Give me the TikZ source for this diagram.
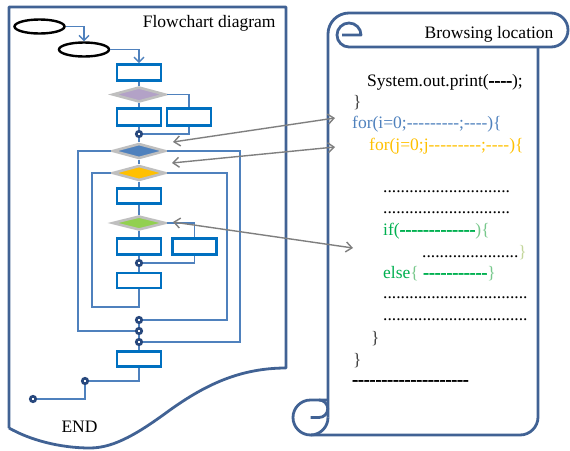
\documentclass[tikz,border=0pt]{standalone}
\usepackage{fontspec}
\setmainfont{Liberation Serif}[Ligatures=TeXOff]
\newfontfamily\dashfont{Liberation Serif}[UprightFont=* Bold,FakeBold=1.5,Ligatures=TeXOff]
\usetikzlibrary{shapes.geometric,arrows.meta}
\definecolor{frame}{RGB}{65,98,148}
\definecolor{flow}{RGB}{79,129,189}
\definecolor{boxblue}{RGB}{0,112,192}
\definecolor{rim}{RGB}{191,191,191}
\definecolor{dotblue}{RGB}{40,72,125}
\definecolor{lilac}{RGB}{179,162,199}
\definecolor{amber}{RGB}{255,192,0}
\definecolor{leaf}{RGB}{146,208,80}
\definecolor{codegreen}{RGB}{0,176,80}
\definecolor{palegreen}{RGB}{120,200,140}
\definecolor{olive}{RGB}{195,214,155}
\definecolor{brace}{RGB}{64,64,64}
\definecolor{pointer}{RGB}{127,127,127}
\newcommand\heavydash[1]{{\dashfont #1}}

\begin{document}
\begin{tikzpicture}[x=1pt,y=-1pt,
  every node/.style={font=\fontsize{17.5}{21}\selectfont},
  procbox/.style={draw=boxblue,line width=2.6pt,fill=white,minimum width=44pt,minimum height=16pt,inner sep=0pt},
  decision/.style={diamond,draw=rim,line width=2.6pt,minimum width=53pt,minimum height=15pt,inner sep=0pt},
  terminal/.style={ellipse,draw=black,line width=2.4pt,minimum width=50pt,minimum height=14pt,inner sep=0pt},
  joint/.style={circle,draw=dotblue,fill=white,line width=2.6pt,minimum size=5.5pt,inner sep=0pt},
  link/.style={draw=flow,line width=1.4pt},
  flowarrow/.style={link,-{Straight Barb[length=5pt,width=10pt]}},
  pointerarrow/.style={draw=pointer,line width=1.4pt,{Straight Barb[length=6pt,width=10pt]}-{Straight Barb[length=6pt,width=10pt]}},
  outline/.style={draw=frame,line width=2.8pt,line join=round},
  code/.style={anchor=base west,inner sep=0pt},
]
\useasboundingbox (0,0) rectangle (570,450);

% document-shaped frame of the flowchart
\draw[outline] (9,428) -- (9,7) -- (286,7) -- (286,368)
  .. controls (240,368) and (205,385) .. (170,410)
  .. controls (140,432) and (115,448) .. (90,448)
  .. controls (60,448) and (30,440) .. (9,428);
\node[anchor=base east] (charttitle) at (279,27) {Flowchart diagram};
\node (endlabel) at (79.5,427) {END};

% scroll holding the code
\draw[outline] (328,417.5) -- (328,34) arc[start angle=180,end angle=270,radius=21]
  -- (551,13) arc[start angle=-90,end angle=90,radius=17] -- (349,47)
  arc[start angle=90,end angle=270,radius=12] arc[start angle=270,end angle=360,radius=12] -- (342,35);
\draw[outline] (538,47) -- (538,417) arc[start angle=0,end angle=90,radius=18] -- (310.5,435);
\draw[outline] (328,400) -- (310.5,400) arc[start angle=270,end angle=0,radius=17.5];
\draw[outline] (310.5,417.5) -- (319,417.5) arc[start angle=90,end angle=-90,radius=8.75];
\node[anchor=base east] (scrolltitle) at (557,38) {Browsing location};

% flowchart nodes
\node[terminal] (e1) at (39.5,26.5) {};
\node[terminal] (e2) at (84,49.5) {};
\node[procbox] (b1) at (139,72.5) {};
\node[decision,fill=lilac] (d1) at (139,94.5) {};
\node[procbox,minimum height=17pt] (b2) at (139,117) {};
\node[procbox,minimum height=17pt] (b3) at (189,117) {};
\node[joint] (j1) at (139,134) {};
\node[decision,fill=flow] (d2) at (139,151) {};
\node[decision,fill=amber] (d3) at (139,173) {};
\node[procbox,minimum height=15pt] (b4) at (139,196) {};
\node[decision,fill=leaf,minimum height=14pt] (d4) at (139,223) {};
\node[procbox] (b5) at (139,246.5) {};
\node[procbox] (b6) at (194.5,246.5) {};
\node[joint] (j2) at (139,263) {};
\node[procbox,minimum height=15pt] (b7) at (139,280.5) {};
\node[joint] (j3) at (139,320) {};
\node[joint] (j4) at (139,331) {};
\node[joint] (j5) at (139,342) {};
\node[procbox,minimum height=15pt] (b8) at (139,359) {};
\node[joint] (j6) at (85,381) {};
\node[joint] (j7) at (33,399) {};

% loop corners
\coordinate (outerL) at (78,331);
\coordinate (outerR) at (240,342);
\coordinate (innerL) at (92,307);
\coordinate (innerR) at (227,320);

% flowchart connectors
\draw[flowarrow] (e1.east) -| (e2.north);
\draw[flowarrow] (e2.east) -| (b1.north);
\draw[link] (b1) -- (d1);
\draw[link] (d1) -- (b2);
\draw[link] (d1.east) -| (b3.north);
\draw[link] (b2) -- (j1);
\draw[link] (b3.south) |- (j1);
\draw[link] (j1) -- (d2);
\draw[link] (d2) -- (d3);
\draw[link] (d3) -- (b4);
\draw[link] (b4) -- (d4);
\draw[link] (d4) -- (b5);
\draw[link] (d4.east) -| (b6.north);
\draw[link] (b5) -- (j2);
\draw[link] (b6.south) |- (j2);
\draw[link] (j2) -- (b7);
\draw[link] (d2.west) -| (outerL) -- (j4);
\draw[link] (d2.east) -| (outerR) -- (j5);
\draw[link] (b7.south) |- (innerL) |- (d3.west);
\draw[link] (d3.east) -| (innerR) -- (j3);
\draw[link] (j3) -- (j4);
\draw[link] (j4) -- (j5);
\draw[link] (j5) -- (b8);
\draw[link] (b8.south) |- (j6);
\draw[link] (j6) |- (j7);

% code lines
\node[code] (c1) at (367,86) {System.out.print(\heavydash{----});};
\node[code,text=brace] (c2) at (353,107) {\}};
\node[code,text=flow] (c3) at (352,128) {for(i=0;---------;----)\{};
\node[code,text=amber] (c4) at (369,150) {for(j=0;j---------;----)\{};
\node[code] (c5) at (383,192) {.............................};
\node[code] (c6) at (383,213) {.............................};
\node[code,text=codegreen] (c7) at (383,235) {if(\heavydash{-------------}\textcolor{palegreen}{)\{}};
\node[code] (c8) at (422,257) {......................\textcolor{olive}{\}}};
\node[code,text=codegreen] (c9) at (383,278) {else\textcolor{palegreen}{\{} \heavydash{-----------}\textcolor{palegreen}{\}}};
\node[code] (c10) at (383,298) {.................................};
\node[code] (c11) at (383,320) {.................................};
\node[code,text=brace] (c12) at (371,343) {\}};
\node[code,text=brace] (c13) at (353,365) {\}};
\node[code] (c14) at (352,385) {\heavydash{--------------------}};

% pointers between chart and code
\coordinate (p1a) at (173,142);
\coordinate (p1b) at (335,118);
\coordinate (p2a) at (172,163);
\coordinate (p2b) at (335,147);
\coordinate (p3a) at (173,222);
\coordinate (p3b) at (353,248);
\draw[pointerarrow] (p1a) -- (p1b);
\draw[pointerarrow] (p2a) -- (p2b);
\draw[pointerarrow] (p3a) -- (p3b);
\end{tikzpicture}
\end{document}
